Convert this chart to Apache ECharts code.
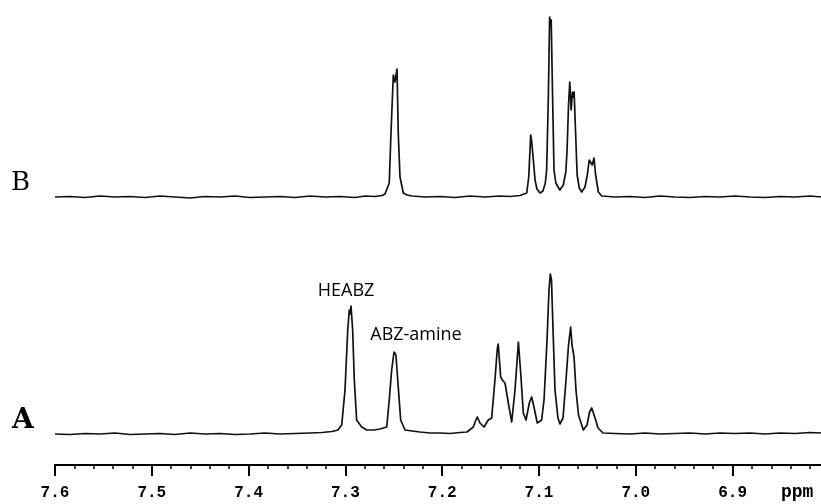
<!DOCTYPE html>
<html>
<head>
<meta charset="utf-8">
<script src="https://cdn.jsdelivr.net/npm/echarts@6/dist/echarts.min.js"></script>
<style>
html,body{margin:0;padding:0;background:#fff;overflow:hidden;}
#c{width:830px;height:504px;}
</style>
</head>
<body>
<div id="c"></div>
<script>
// Axis ticks (ppm)
const tickLabels = [7.6, 7.5, 7.4, 7.3, 7.2, 7.1, 7.0, 6.9];
const traceNames = ['B', 'A'];
const annotations = ['HEABZ', 'ABZ-amine'];

// Spectrum B: [ppm, intensity]
const spectrumB = [
[7.6000,0],[7.5845,0.5],[7.5690,-0.5],[7.5535,1],[7.5380,0],[7.5225,0.5],[7.5070,-0.5],[7.4915,1],
[7.4760,0],[7.4605,-1],[7.4450,0.5],[7.4295,0],[7.4140,1],[7.3986,-0.5],[7.3831,0],[7.3676,0.5],
[7.3521,-0.5],[7.3366,1],[7.3211,0],[7.3056,0.5],[7.2901,-0.5],[7.2798,1],[7.2694,0.5],[7.2622,1.5],
[7.2591,3],[7.2547,14],[7.2529,64],[7.2505,122],[7.2488,115],[7.2467,128],[7.2454,64],[7.2436,20],
[7.2402,4],[7.2364,2],[7.2312,1],
[7.2178,0],[7.2023,0.5],[7.1868,-0.5],[7.1713,1],[7.1558,0],[7.1403,1],[7.1300,0.5],[7.1196,1.5],[7.1127,4],
[7.1106,20],[7.1086,62],[7.1076,56],[7.1065,54],[7.1052,30],[7.1041,17],[7.1021,8],[7.0990,4],
[7.0959,6],[7.0935,14],[7.0921,27],[7.0904,97],[7.0890,180],[7.0882,172],[7.0874,177],[7.0859,97],
[7.0845,27],[7.0826,14],[7.0785,7],[7.0749,12],[7.0723,25],[7.0710,47],[7.0695,92],[7.0682,115],
[7.0668,87],[7.0654,105],[7.0645,100],[7.0637,105],[7.0623,67],[7.0606,22],[7.0584,9],[7.0559,5],
[7.0525,10],[7.0501,22],[7.0481,37],[7.0463,39],[7.0450,32],[7.0432,39],[7.0415,22],[7.0387,5],[7.0352,1],
[7.0215,0],[7.0060,0.5],[6.9905,-0.5],[6.9750,1],[6.9595,0],[6.9440,-0.5],[6.9285,0.5],[6.9130,0],
[6.8975,1],[6.8820,0],[6.8665,-0.5],[6.8510,0.5],[6.8355,0],[6.8200,1],[6.8079,0]
];

// Spectrum A: [ppm, intensity]
const spectrumA = [
[7.6000,0],[7.5845,-0.5],[7.5690,0.5],[7.5535,0],[7.5380,1],[7.5225,-0.5],[7.5070,0],[7.4915,0.5],
[7.4760,-0.5],[7.4605,1],[7.4450,0],[7.4295,0.5],[7.4140,-0.5],[7.3986,0],[7.3831,1],[7.3676,0],
[7.3521,0.5],[7.3366,1],[7.3242,1.5],[7.3139,2.5],[7.3077,4],
[7.3038,9],[7.3004,44],[7.2976,104],[7.2960,124],[7.2951,120],[7.2942,128],[7.2925,104],[7.2908,54],
[7.2884,14],[7.2832,7],[7.2780,4],[7.2705,4],[7.2643,5],
[7.2573,7],[7.2547,34],[7.2522,64],[7.2498,82],[7.2478,79],[7.2454,47],[7.2429,14],[7.2384,4],[7.2312,3],
[7.2229,2],[7.2126,1],[7.2023,1],[7.1919,0.5],[7.1816,1.5],[7.1744,2],[7.1679,7],[7.1656,13],[7.1637,17],
[7.1610,11],[7.1568,7],[7.1524,14],[7.1489,16],[7.1455,54],[7.1431,85],[7.1421,90],[7.1396,57],
[7.1372,53],[7.1351,51],[7.1317,31],[7.1282,12],[7.1248,44],[7.1213,92],[7.1189,61],[7.1162,21],
[7.1134,14],[7.1100,31],[7.1076,37],[7.1052,27],[7.1018,11],[7.0973,14],[7.0948,34],[7.0917,94],
[7.0897,144],[7.0883,160],[7.0871,154],[7.0855,104],[7.0835,44],[7.0804,16],[7.0783,10],[7.0752,16],
[7.0721,54],[7.0695,89],[7.0673,107],[7.0659,89],[7.0638,77],[7.0618,44],[7.0592,19],[7.0542,4],
[7.0504,9],[7.0478,22],[7.0455,26],[7.0436,24],[7.0421,16],[7.0390,6],[7.0339,1],
[7.0215,0.5],[7.0060,0],[6.9905,1],[6.9750,0],[6.9595,0.5],[6.9440,1],[6.9285,0],[6.9130,1],
[6.8975,0.5],[6.8820,1],[6.8665,0],[6.8510,1],[6.8355,0.5],[6.8200,1.5],[6.8079,1]
];

// annotation anchor points (peak tops in spectrum A)
const heabzPeak = [7.2942, 128];
const abzPeak = [7.2498, 82];

const chart = echarts.init(document.getElementById('c'), null, {renderer:'canvas'});
const xRange = {min: 6.8, max: 7.6};
const lineStyle = {color:'#111', width:1.7, join:'round'};

chart.setOption({
  animation:false,
  backgroundColor:'#fff',
  grid:[
    {left:55, right:0.6, top:10, height:200},
    {left:55, right:0.6, top:265, height:200}
  ],
  xAxis:[
    {gridIndex:0, type:'value', inverse:true, min:xRange.min, max:xRange.max, show:false},
    {gridIndex:1, type:'value', inverse:true, min:xRange.min, max:xRange.max, interval:0.1,
     axisLine:{show:true, onZero:false, lineStyle:{color:'#000', width:2}},
     axisTick:{show:true, length:11, lineStyle:{color:'#000', width:2}},
     minorTick:{show:true, splitNumber:5, length:4, lineStyle:{color:'#000', width:1.5}},
     splitLine:{show:false},
     axisLabel:{show:true, margin:20, showMinLabel:false, color:'#000',
       fontFamily:'Liberation Mono', fontWeight:'bold', fontSize:16,
       formatter:function(v){ return tickLabels.some(t=>Math.abs(t-v)<1e-6) ? v.toFixed(1) : ''; }}
    }
  ],
  yAxis:[
    {gridIndex:0, type:'value', min:-13, max:187, show:false},
    {gridIndex:1, type:'value', min:-31, max:169, show:false}
  ],
  series:[
    {name:traceNames[0], type:'line', xAxisIndex:0, yAxisIndex:0, data:spectrumB,
     showSymbol:false, symbol:'none', lineStyle:lineStyle, silent:true},
    {name:traceNames[1], type:'line', xAxisIndex:1, yAxisIndex:1, data:spectrumA,
     showSymbol:false, symbol:'none', lineStyle:lineStyle, silent:true,
     markPoint:{symbol:'circle', symbolSize:0, silent:true,
       data:[
         {coord:heabzPeak, label:{show:true, position:'inside', offset:[-5,-15], formatter:annotations[0],
           color:'#000', fontFamily:'Open Sans', fontSize:18}},
         {coord:abzPeak, label:{show:true, position:'inside', offset:[22,-17], formatter:annotations[1],
           color:'#000', fontFamily:'Open Sans', fontSize:18}}
       ]}
    }
  ],
  graphic:[
    {type:'text', left:11, top:170, style:{text:traceNames[0], fontFamily:'DejaVu Serif', fontSize:26, fill:'#000'}},
    {type:'text', left:12, top:407, style:{text:traceNames[1], fontFamily:'DejaVu Serif', fontWeight:'bold', fontSize:28, fill:'#000'}},
    {type:'text', left:781, top:483, style:{text:'ppm', fontFamily:'Liberation Mono', fontWeight:'bold', fontSize:18, fill:'#000'}}
  ]
});
</script>
</body>
</html>
